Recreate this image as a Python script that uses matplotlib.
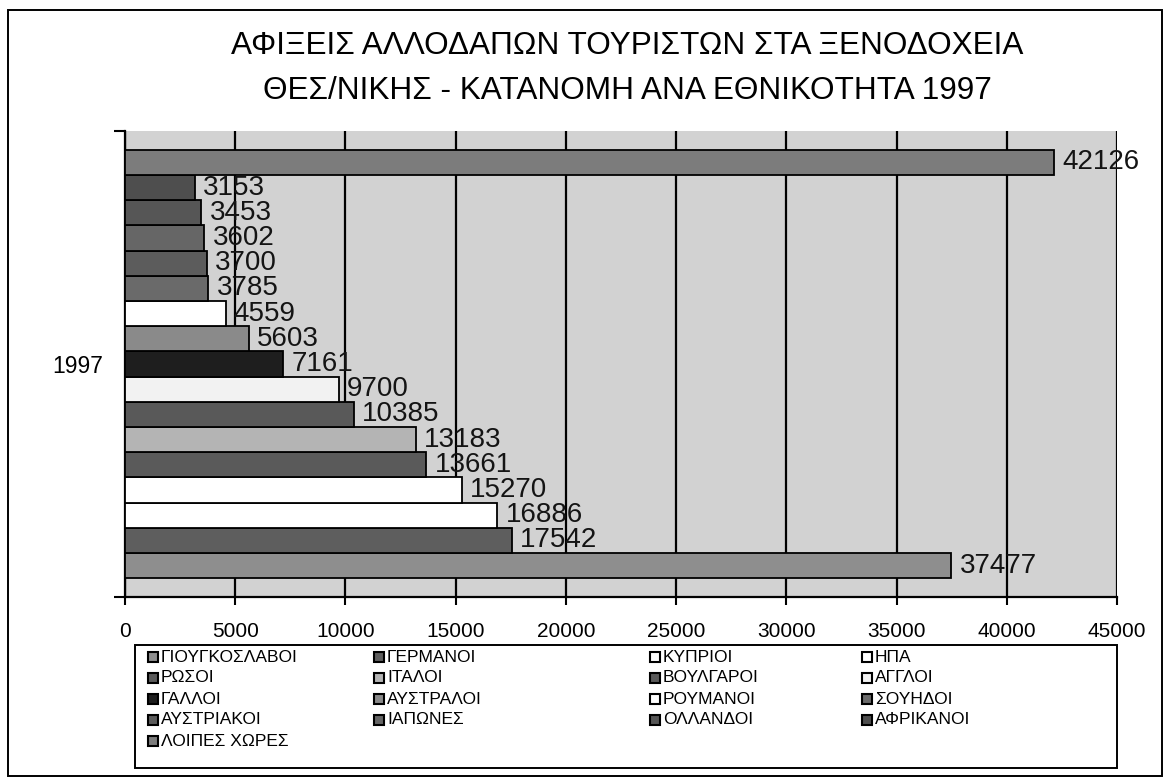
import matplotlib
matplotlib.use("Agg")
import matplotlib.pyplot as plt
from matplotlib.patches import Rectangle

# Arrivals of foreign tourists in Thessaloniki hotels, 1997, by nationality
nationalities = [
    "ΓΙΟΥΓΚΟΣΛΑΒΟΙ", "ΓΕΡΜΑΝΟΙ", "ΚΥΠΡΙΟΙ", "ΗΠΑ",
    "ΡΩΣΟΙ", "ΙΤΑΛΟΙ", "ΒΟΥΛΓΑΡΟΙ", "ΑΓΓΛΟΙ",
    "ΓΑΛΛΟΙ", "ΑΥΣΤΡΑΛΟΙ", "ΡΟΥΜΑΝΟΙ", "ΣΟΥΗΔΟΙ",
    "ΑΥΣΤΡΙΑΚΟΙ", "ΙΑΠΩΝΕΣ", "ΟΛΛΑΝΔΟΙ", "ΑΦΡΙΚΑΝΟΙ",
    "ΛΟΙΠΕΣ ΧΩΡΕΣ",
]
arrivals = [
    37477, 17542, 16886, 15270,
    13661, 13183, 10385, 9700,
    7161, 5603, 4559, 3785,
    3700, 3602, 3453, 3153,
    42126,
]
bar_colors = [
    "#8e8e8e", "#5e5e5e", "#ffffff", "#ffffff",
    "#5a5a5a", "#b4b4b4", "#595959", "#f2f2f2",
    "#1e1e1e", "#8a8a8a", "#ffffff", "#6a6a6a",
    "#5c5c5c", "#666666", "#565656", "#4e4e4e",
    "#7c7c7c",
]
year_label = "1997"
title_lines = [
    "ΑΦΙΞΕΙΣ ΑΛΛΟΔΑΠΩΝ ΤΟΥΡΙΣΤΩΝ ΣΤΑ ΞΕΝΟΔΟΧΕΙΑ",
    "ΘΕΣ/ΝΙΚΗΣ - ΚΑΤΑΝΟΜΗ ΑΝΑ ΕΘΝΙΚΟΤΗΤΑ 1997",
]
x_ticks = list(range(0, 45001, 5000))

W, H = 1165, 777
plt.rcParams["font.family"] = ["Liberation Sans", "DejaVu Sans"]

fig = plt.figure(figsize=(W / 100, H / 100), dpi=100)
fig.patch.set_facecolor("white")


def fx(px):
    return px / W


def fy(py):
    return 1 - py / H


# outer frame of the chart
fig.patches.append(Rectangle((fx(8), fy(776)), fx(1162) - fx(8), fy(10) - fy(776),
                             transform=fig.transFigure, fill=False,
                             edgecolor="black", linewidth=1.4))

ax = fig.add_axes([fx(125), fy(597), fx(1117) - fx(125), fy(131) - fy(597)])
ax.set_facecolor("#d2d2d2")

positions = list(range(len(arrivals)))
ax.barh(positions, arrivals, height=1.0, color=bar_colors,
        edgecolor="black", linewidth=1.3, zorder=3)

for pos, val in zip(positions, arrivals):
    ax.annotate(f"{val}", xy=(val, pos), xytext=(6, 0), textcoords="offset points",
                ha="left", va="center", fontsize=20, color="#141414",
                zorder=5, annotation_clip=False)

ax.set_xlim(0, 45000)
ax.set_ylim(-1.25, len(arrivals) - 1 + 1.25)
ax.set_xticks(x_ticks)
ax.set_xticklabels([str(t) for t in x_ticks])
ax.xaxis.grid(True, color="black", linewidth=1.6, zorder=1)
ax.set_axisbelow(True)
ax.tick_params(axis="x", direction="out", length=6, width=1.5, pad=12,
               colors="black", labelsize=15)

ax.set_yticks([(len(arrivals) - 1) / 2])
ax.set_yticklabels([year_label])
ax.set_yticks([-1.25, len(arrivals) - 1 + 1.25], minor=True)
ax.tick_params(axis="y", which="major", length=0, pad=16, labelsize=16.5)
ax.tick_params(axis="y", which="minor", direction="out", length=8, width=1.5)

for side in ("top", "right"):
    ax.spines[side].set_visible(False)
for side in ("left", "bottom"):
    ax.spines[side].set_linewidth(1.6)
    ax.spines[side].set_color("black")

# two-line title centred over the plot area
title_font = ["Liberation Sans Narrow", "Liberation Sans", "DejaVu Sans"]
fig.text(fx(627), fy(46), title_lines[0], ha="center", va="center",
         fontsize=22.7, family=title_font)
fig.text(fx(627), fy(91), title_lines[1], ha="center", va="center",
         fontsize=22.7, family=title_font)

# legend: four columns filled row by row
leg_left, leg_top, leg_right, leg_bottom = 135, 645, 1117, 768
fig.patches.append(Rectangle((fx(leg_left), fy(leg_bottom)),
                             fx(leg_right) - fx(leg_left), fy(leg_top) - fy(leg_bottom),
                             transform=fig.transFigure, facecolor="white",
                             edgecolor="black", linewidth=1.4))
col_x = [148, 374, 650, 862]
row_y0, row_step = 657, 21
sq = 10
for i, (name, col) in enumerate(zip(nationalities, bar_colors)):
    r, c = divmod(i, 4)
    x0 = col_x[c]
    yc = row_y0 + r * row_step
    fig.patches.append(Rectangle((fx(x0), fy(yc + sq / 2)), fx(sq), sq / H,
                                 transform=fig.transFigure, facecolor=col,
                                 edgecolor="black", linewidth=1.5))
    fig.text(fx(x0 + sq + 3), fy(yc), name, ha="left", va="center", fontsize=12.5)

fig.savefig("out.png", dpi=100, facecolor="white")
